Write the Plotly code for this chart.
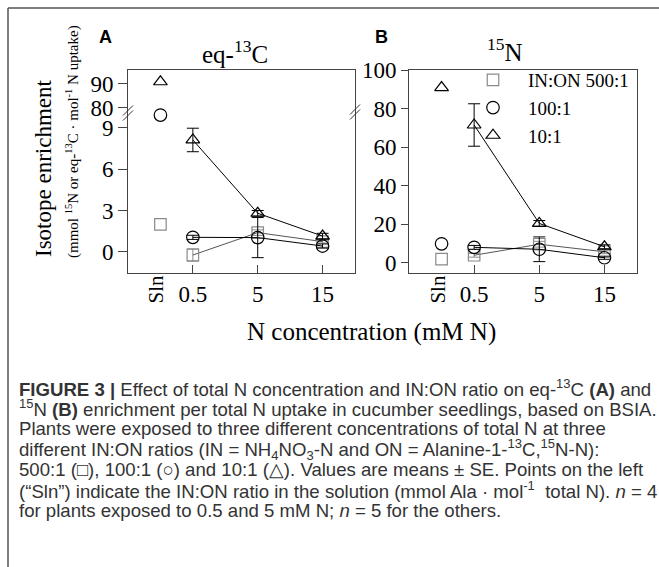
import plotly.graph_objects as go

# ---------------- data ----------------
conc_labels = ["0.5", "5", "15"]          # mM N
conc_pos = [0, 1, 2]                       # category positions on the x axis
sln_pos = -0.5                             # position of the "Sln" (solution) points
ratio_names = ["IN:ON 500:1", "100:1", "10:1"]

# solution ratios (mmol Ala per mol total N)
sln_values = [2.0, 9.9, 90.9]

# eq-13C enrichment (panel A): means and SE
c13_500 = [-0.22, 1.40, 0.75]
c13_500_se = [0.45, 0.20, 0.10]
c13_100 = [1.06, 1.04, 0.43]
c13_100_se = [0.15, 1.45, 0.15]
c13_10 = [8.10, 2.80, 1.15]
c13_10_se = [0.85, 0.20, 0.20]

# 15N enrichment (panel B): means and SE
n15_500 = [4.0, 9.7, 5.8]
n15_500_se = [1.0, 1.5, 1.0]
n15_100 = [8.1, 7.1, 2.7]
n15_100_se = [1.0, 6.4, 0.8]
n15_10 = [71.5, 20.5, 8.4]
n15_10_se = [11.0, 1.5, 1.0]

# axis ticks
a_low_ticks = [0, 3, 6, 9]
a_up_ticks = [80, 90]
b_ticks = [0, 20, 40, 60, 80, 100]

# ---------------- layout helpers ----------------
W, H = 659, 567
def fx(px): return px / W
def fy(py): return 1 - py / H

SERIF = "Liberation Serif, Times New Roman, serif"
SANS = "Liberation Sans, Arial, sans-serif"
GRAY = "#8a8a8a"

styles = [
    dict(symbol="square-open", size=11.5, color=GRAY, line="#555555"),
    dict(symbol="circle-open", size=12.5, color="black", line="black"),
    dict(symbol="triangle-up-open", size=12, color="black", line="black"),
]

fig = go.Figure()

def add_series(xa, ya, vals, se, st):
    fig.add_trace(go.Scatter(
        x=conc_pos, y=vals, xaxis=xa, yaxis=ya, mode="lines+markers",
        line=dict(color=st["line"], width=1),
        marker=dict(symbol=st["symbol"], size=st["size"], color=st["color"],
                    line=dict(width=1.2, color=st["color"])),
        error_y=dict(type="data", array=se, visible=True, color=st["color"],
                     thickness=1, width=6),
        showlegend=False, cliponaxis=False, hoverinfo="skip"))

def add_sln(xa, ya, val, st, name=None, legend=False):
    fig.add_trace(go.Scatter(
        x=[sln_pos], y=[val], xaxis=xa, yaxis=ya, mode="markers",
        marker=dict(symbol=st["symbol"], size=st["size"], color=st["color"],
                    line=dict(width=1.2, color=st["color"])),
        name=name, showlegend=legend, cliponaxis=False, hoverinfo="skip"))

# Panel A (broken axis: lower y, upper y2)
for vals, se, st in [(c13_500, c13_500_se, styles[0]),
                     (c13_100, c13_100_se, styles[1]),
                     (c13_10, c13_10_se, styles[2])]:
    add_series("x", "y", vals, se, st)
add_sln("x", "y", sln_values[0], styles[0])
add_sln("x", "y", sln_values[1], styles[1])
add_sln("x2", "y2", sln_values[2], styles[2])

# Panel B
for vals, se, st in [(n15_500, n15_500_se, styles[0]),
                     (n15_100, n15_100_se, styles[1]),
                     (n15_10, n15_10_se, styles[2])]:
    add_series("x3", "y3", vals, se, st)
for v, st, nm in zip(sln_values, styles, ratio_names):
    add_sln("x3", "y3", v, st, name=nm, legend=True)

axis_font = dict(family=SERIF, size=23, color="black")
dom_a = [fx(128), fx(355)]
dom_b = [fx(409), fx(637)]
xr = [-1, 2.5]

common_x = dict(range=xr, showgrid=False, zeroline=False, showline=True,
                linecolor="#444", linewidth=1, tickfont=axis_font,
                fixedrange=True, automargin=False)
common_y = dict(showgrid=False, zeroline=False, showline=True,
                linecolor="#444", linewidth=1, tickfont=axis_font,
                ticks="outside", tickcolor="#444", fixedrange=True,
                automargin=False)

fig.update_layout(
    width=W, height=H, margin=dict(l=0, r=0, t=0, b=0, autoexpand=False),
    paper_bgcolor="white", plot_bgcolor="rgba(0,0,0,0)",
    xaxis=dict(common_x, domain=dom_a, anchor="y", tickvals=conc_pos,
               ticktext=conc_labels, ticks="inside", ticklen=8,
               tickcolor="#444"),
    yaxis=dict(common_y, domain=[fy(273), fy(113)], anchor="x",
               range=[-1.52, 10.05], tickvals=a_low_ticks, ticklen=9,
               mirror=True),
    xaxis2=dict(common_x, domain=dom_a, anchor="y2", side="top",
                showticklabels=False, ticks=""),
    yaxis2=dict(common_y, domain=[fy(113), fy(70)], anchor="x2",
                range=[77.9, 95.8], tickvals=a_up_ticks, ticklen=9,
                mirror=True),
    xaxis3=dict(common_x, domain=dom_b, anchor="y3", tickvals=conc_pos,
                ticktext=conc_labels, ticks="inside", ticklen=8,
                tickcolor="#444", mirror=True),
    yaxis3=dict(common_y, domain=[fy(273), fy(70)], anchor="x3",
                range=[-5.2, 100], tickvals=b_ticks, ticklen=7, mirror=True),
    legend=dict(x=fx(458), y=fy(61), xanchor="left", yanchor="top",
                itemwidth=60, font=dict(family=SERIF, size=19, color="black"),
                bgcolor="rgba(0,0,0,0)", tracegroupgap=0),
    showlegend=True,
)

ann = []
def add_ann(text, x, y, size, family=SERIF, xref="paper", yref="paper",
            angle=0, xanchor="center", yanchor="middle", color="black",
            xshift=0):
    ann.append(dict(text=text, x=x, y=y, xref=xref, yref=yref,
                    showarrow=False, textangle=angle, xanchor=xanchor,
                    yanchor=yanchor, xshift=xshift,
                    font=dict(family=family, size=size, color=color)))

add_ann("<b>A</b>", fx(105), fy(37), 18, family=SANS)
add_ann("<b>B</b>", fx(381), fy(37), 18, family=SANS)
add_ann("eq-<sup>13</sup>C", fx(235), fy(52), 25)
add_ann("<sup>15</sup>N", fx(505), fy(50), 25)
add_ann("Isotope enrichment", fx(43), fy(168), 23, angle=-90)
add_ann("(mmol <sup>15</sup>N or eq-<sup>13</sup>C · mol<sup>-1</sup> N uptake)",
        fx(72), fy(142), 15, angle=-90)
add_ann("N concentration (mM N)", fx(371), fy(332), 25)
add_ann("Sln", sln_pos, fy(289), 21, xref="x", angle=-90, xshift=-4)
add_ann("Sln", sln_pos, fy(289), 21, xref="x3", angle=-90, xshift=-4)

caption = [
    "<b>FIGURE 3 |</b> Effect of total N concentration and IN:ON ratio on eq-<sup>13</sup>C <b>(A)</b> and",
    "<sup>15</sup>N <b>(B)</b> enrichment per total N uptake in cucumber seedlings, based on BSIA.",
    "Plants were exposed to three different concentrations of total N at three",
    "different IN:ON ratios (IN = NH<sub>4</sub>NO<sub>3</sub>-N and ON = Alanine-1-<sup>13</sup>C,<sup>15</sup>N-N):",
    "500:1 (□), 100:1 (○) and 10:1 (△). Values are means ± SE. Points on the left",
    "(“Sln”) indicate the IN:ON ratio in the solution (mmol Ala · mol<sup>-1</sup>  total N). <i>n</i> = 4",
    "for plants exposed to 0.5 and 5 mM N; <i>n</i> = 5 for the others.",
]
for i, line in enumerate(caption):
    add_ann(line, fx(17), fy(388 + 20.4 * i), 18.6, family=SANS,
            xanchor="left", color="#333333")

fig.update_layout(annotations=ann)

# frame and axis-break marks
shapes = [
    dict(type="line", xref="paper", yref="paper", x0=fx(8), x1=1,
         y0=fy(8), y1=fy(8), line=dict(color="#555", width=1.5)),
    dict(type="line", xref="paper", yref="paper", x0=fx(8), x1=fx(8),
         y0=fy(8), y1=0, line=dict(color="#555", width=1.5)),
]
for cx, cy in [(128, 113), (355, 112)]:
    for dy in (-2.5, 2.5):
        shapes.append(dict(type="line", xref="paper", yref="paper",
                           x0=fx(cx - 5), y0=fy(cy + 5 + dy),
                           x1=fx(cx + 5), y1=fy(cy - 5 + dy),
                           line=dict(color="#333", width=1)))
fig.update_layout(shapes=shapes)

fig.write_html("out.html")
